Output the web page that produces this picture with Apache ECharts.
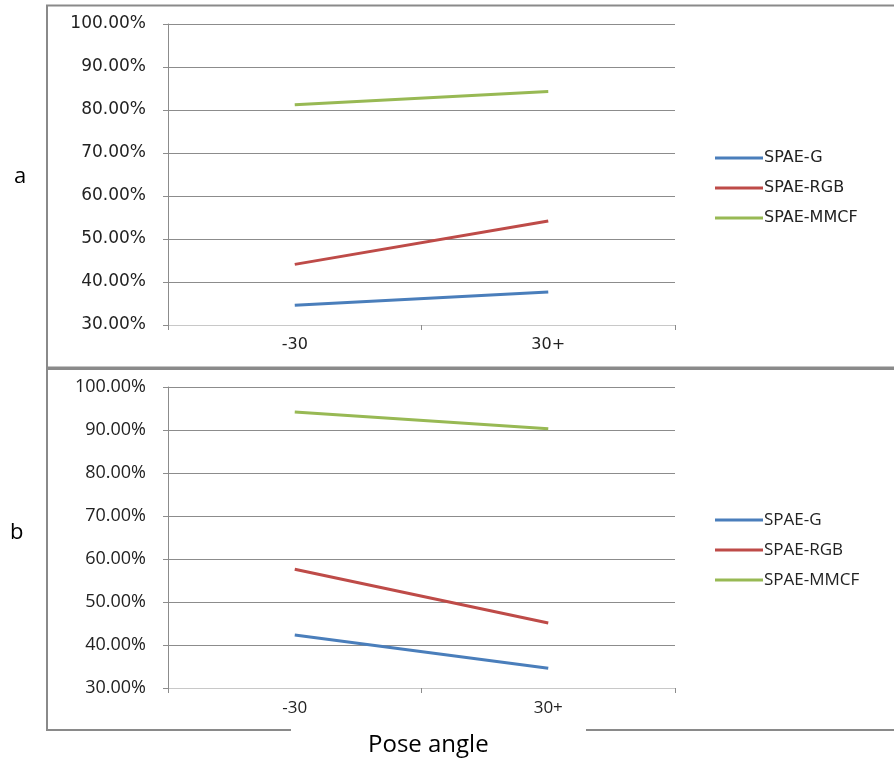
<!DOCTYPE html>
<html>
<head>
<meta charset="utf-8">
<script src="https://cdn.jsdelivr.net/npm/echarts@6/dist/echarts.min.js"></script>
<style>
html,body{margin:0;padding:0;background:#fff;}
#chart{width:894px;height:765px;}
</style>
</head>
<body>
<div id="chart"></div>
<script>
const categories = ['-30', '30+'];
const seriesNames = ['SPAE-G', 'SPAE-RGB', 'SPAE-MMCF'];
const panelA_G = [34.6, 37.7];
const panelA_RGB = [44.1, 54.2];
const panelA_MMCF = [81.2, 84.3];
const panelB_G = [42.3, 34.6];
const panelB_RGB = [57.6, 45.1];
const panelB_MMCF = [94.2, 90.3];
const yTicks = [30, 40, 50, 60, 70, 80, 90, 100];
const panelLabels = ['a', 'b'];
const xTitle = 'Pose angle';

const colors = ['#4a7ebb', '#be4b48', '#98b954'];
const axisGray = '#8c8c8c';
const fontA = 'DejaVu Sans';
const fontB = 'Open Sans';

function yAxis(gridIndex, font, size) {
  return {
    type: 'value', gridIndex: gridIndex,
    min: yTicks[0], max: yTicks[yTicks.length - 1], interval: 10,
    axisLine: {show: true, lineStyle: {color: axisGray, width: 1}},
    axisTick: {show: true, length: 5, lineStyle: {color: axisGray}},
    splitLine: {show: true, lineStyle: {color: axisGray, width: 1}},
    axisLabel: {formatter: v => v.toFixed(2) + '%', fontFamily: font, fontSize: size, color: '#222', margin: 22}
  };
}
function xAxis(gridIndex, font, size) {
  return {
    type: 'category', gridIndex: gridIndex, data: categories, boundaryGap: true,
    axisLine: {show: true, lineStyle: {color: '#c8c8c8', width: 1}},
    axisTick: {show: true, length: 5, lineStyle: {color: axisGray}},
    axisLabel: {fontFamily: font, fontSize: size, color: '#222', margin: 12}
  };
}
function line(name, data, idx, gi) {
  return {
    name: name, type: 'line', data: data, xAxisIndex: gi, yAxisIndex: gi,
    showSymbol: false, symbol: 'none', lineStyle: {color: colors[idx], width: 3},
    itemStyle: {color: colors[idx]}, animation: false
  };
}

const chart = echarts.init(document.getElementById('chart'));
chart.setOption({
  animation: false,
  grid: [
    {left: 168, top: 24, width: 507, height: 301},
    {left: 168, top: 387, width: 507, height: 301}
  ],
  xAxis: [xAxis(0, fontA, 16), xAxis(1, fontB, 17)],
  yAxis: [yAxis(0, fontA, 17), yAxis(1, fontB, 18)],
  legend: [
    {data: seriesNames, orient: 'vertical', left: 710, top: 143, icon: 'rect', itemWidth: 48, itemHeight: 3, itemGap: 10, selectedMode: false,
     textStyle: {fontFamily: fontA, fontSize: 16, lineHeight: 20, color: '#222', padding: [0,0,0,-4]}},
    {data: seriesNames, orient: 'vertical', left: 710, top: 505, icon: 'rect', itemWidth: 48, itemHeight: 3, itemGap: 10, selectedMode: false,
     textStyle: {fontFamily: fontB, fontSize: 17, lineHeight: 20, color: '#222', padding: [0,0,0,-4]}}
  ],
  series: [
    line(seriesNames[0], panelA_G, 0, 0),
    line(seriesNames[1], panelA_RGB, 1, 0),
    line(seriesNames[2], panelA_MMCF, 2, 0),
    line(seriesNames[0], panelB_G, 0, 1),
    line(seriesNames[1], panelB_RGB, 1, 1),
    line(seriesNames[2], panelB_MMCF, 2, 1)
  ],
  graphic: [
    {type: 'polyline', silent: true, shape: {points: [[900, 5.5], [47, 5.5], [47, 367.5], [900, 367.5]]}, style: {stroke: '#8a8a8a', lineWidth: 2, fill: null}},
    {type: 'polyline', silent: true, shape: {points: [[900, 369], [47, 369], [47, 730], [291, 730]]}, style: {stroke: '#8a8a8a', lineWidth: 2, fill: null}},
    {type: 'line', silent: true, shape: {x1: 586, y1: 730, x2: 900, y2: 730}, style: {stroke: '#8a8a8a', lineWidth: 2}},
    {type: 'text', left: 14, top: 166, style: {text: panelLabels[0], font: '22px "Open Sans"', fill: '#000'}},
    {type: 'text', left: 10, top: 522, style: {text: panelLabels[1], font: '22px "Open Sans"', fill: '#000'}},
    {type: 'text', left: 368, top: 733, style: {text: xTitle, font: '24px "Open Sans"', fill: '#000'}}
  ]
});
</script>
</body>
</html>
